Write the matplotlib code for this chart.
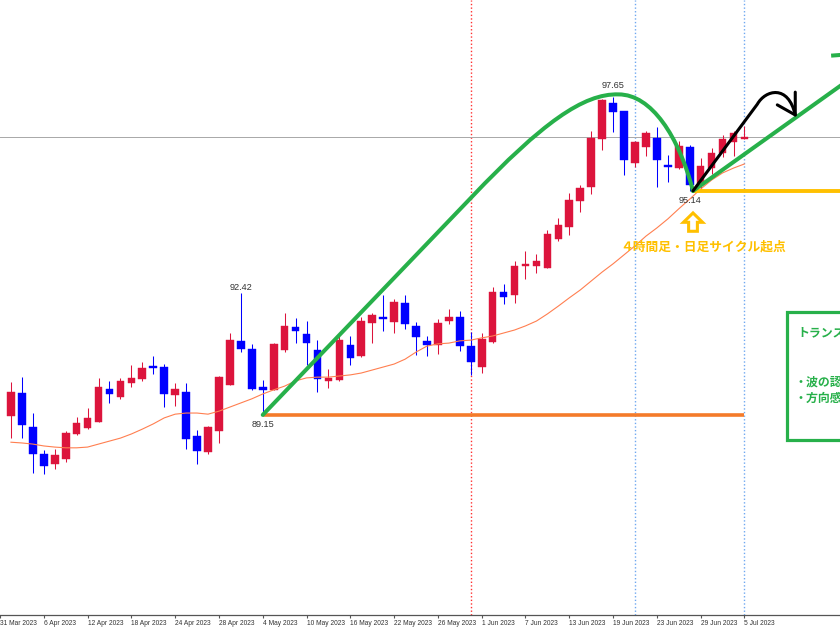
import matplotlib
matplotlib.use("Agg")
import numpy as np
import pandas as pd
import matplotlib.pyplot as plt
from matplotlib.patches import Rectangle, FancyArrow, PathPatch
from matplotlib.path import Path

# daily bars 3 Apr 2023 .. 5 Jul 2023
days = pd.bdate_range("2023-04-03", "2023-07-05")

opens = [89.12, 89.74, 88.83, 88.11, 87.84, 87.97, 88.64, 88.80, 88.96, 89.84,
         89.63, 90.00, 90.11, 90.46, 90.43, 89.68, 89.76, 88.59, 88.16, 88.72,
         89.95, 91.13, 90.91, 89.89, 89.82, 90.89, 91.50, 91.31, 90.89, 90.06,
         90.08, 91.02, 90.72, 91.61, 91.77, 91.63, 92.14, 91.53, 91.13, 91.02,
         91.66, 91.77, 90.99, 90.43, 91.10, 92.43, 92.36, 93.13, 93.13, 93.08,
         93.85, 94.17, 94.87, 95.24, 96.53, 97.49, 97.28, 95.89, 96.31, 96.55,
         95.83, 95.75, 96.31, 95.35, 95.75, 96.15, 96.45, 96.53]
highs = [90.03, 90.16, 89.20, 88.21, 88.24, 88.72, 89.09, 89.33, 90.14, 90.06,
         90.14, 90.49, 90.56, 90.72, 90.51, 90.00, 90.00, 88.75, 88.85, 90.19,
         91.34, 92.42, 91.05, 90.08, 91.07, 91.87, 91.74, 91.66, 91.15, 90.38,
         91.26, 91.26, 91.77, 91.87, 92.36, 92.25, 92.36, 91.63, 91.26, 91.71,
         91.98, 91.93, 91.37, 91.34, 92.57, 92.65, 93.27, 93.53, 93.45, 94.09,
         94.41, 95.08, 95.30, 96.74, 97.60, 97.65, 97.28, 96.47, 96.74, 96.85,
         96.10, 96.47, 96.37, 96.02, 96.29, 96.63, 96.74, 96.87]
lows = [88.53, 88.53, 87.60, 87.57, 87.70, 87.89, 88.61, 88.77, 88.96, 89.47,
        89.58, 89.89, 90.06, 90.24, 89.36, 89.39, 88.24, 87.84, 88.11, 88.40,
        89.95, 90.83, 89.82, 89.15, 89.82, 90.83, 91.07, 90.49, 89.76, 89.87,
        90.06, 90.49, 90.70, 91.07, 91.39, 91.34, 91.45, 90.75, 90.72, 90.78,
        91.58, 90.86, 90.22, 90.27, 91.07, 92.12, 92.14, 92.78, 92.95, 93.08,
        93.80, 93.96, 94.58, 95.06, 96.23, 96.71, 95.56, 95.78, 96.07, 95.24,
        95.38, 95.73, 95.14, 95.16, 95.59, 96.05, 96.07, 96.53]
closes = [89.76, 88.88, 88.11, 87.78, 88.08, 88.67, 88.93, 89.07, 89.89, 89.71,
          90.06, 90.14, 90.40, 90.40, 89.71, 89.84, 88.51, 88.19, 88.83, 90.16,
          91.15, 90.91, 89.84, 89.82, 91.05, 91.53, 91.39, 91.07, 90.11, 90.14,
          91.15, 90.67, 91.66, 91.82, 91.71, 92.17, 91.58, 91.23, 91.02, 91.61,
          91.77, 90.99, 90.56, 91.18, 92.43, 92.30, 93.13, 93.19, 93.27, 93.99,
          94.23, 94.90, 95.22, 96.55, 97.57, 97.25, 95.97, 96.45, 96.69, 95.97,
          95.78, 96.34, 95.30, 95.81, 96.15, 96.53, 96.69, 96.58]
ma = [88.42, 88.40, 88.37, 88.32, 88.29, 88.27, 88.27, 88.29, 88.37, 88.45,
      88.53, 88.64, 88.77, 88.91, 89.07, 89.17, 89.20, 89.20, 89.17, 89.25,
      89.36, 89.47, 89.58, 89.71, 89.82, 89.92, 90.06, 90.14, 90.16, 90.16,
      90.19, 90.22, 90.27, 90.35, 90.43, 90.51, 90.64, 90.83, 90.99, 91.05,
      91.07, 91.13, 91.15, 91.21, 91.26, 91.34, 91.42, 91.53, 91.66, 91.85,
      92.06, 92.28, 92.49, 92.73, 92.97, 93.19, 93.43, 93.67, 93.93, 94.15,
      94.39, 94.66, 94.92, 95.19, 95.43, 95.62, 95.75, 95.86]

# marked swing points (bar index, price)
swing_low = (23, 89.15)
swing_high = (55, 97.65)
spike_high = (21, 92.42)
cycle_low = (62, 95.14)

vlines_red = ["2023-05-31"]
vlines_blue = ["2023-06-21", "2023-07-05"]

RED = "#DC143C"
BLUE = "#0000FF"
GREEN = "#27B04A"
GOLD = "#FFC000"
ORANGE = "#F47B2A"

fig = plt.figure(figsize=(8.4, 6.3), dpi=100)
ax = fig.add_axes([0, 15 / 630, 1, 615 / 630])

x = np.arange(len(days))
o, h, l, c = map(np.array, (opens, highs, lows, closes))
col = np.where(c >= o, RED, BLUE)

ax.vlines(x, l, h, colors=col, lw=0.75, zorder=3)
body = np.maximum(np.abs(c - o), 0.04)
ax.bar(x, body, bottom=np.minimum(o, c), width=0.7, color=col,
       edgecolor=col, lw=0.3, zorder=4)
ax.plot(x, ma, color="#FF7F50", lw=0.8, zorder=5)

# separators and current price line
for d in vlines_red:
    ax.axvline(days.get_loc(pd.Timestamp(d)), color="#FF3030", lw=1.0,
               ls=(0, (1, 1.6)), zorder=1)
for d in vlines_blue:
    ax.axvline(days.get_loc(pd.Timestamp(d)), color="#6FA8F0", lw=1.0,
               ls=(0, (1, 1.6)), zorder=1)
ax.axhline(c[-1], color="#A8A8A8", lw=0.7, zorder=1)

# horizontal levels
ax.plot([swing_low[0], len(days) - 1], [swing_low[1]] * 2, color=ORANGE,
        lw=2.6, solid_capstyle="butt", zorder=6)
ax.plot([cycle_low[0] + 0.3, 80], [cycle_low[1]] * 2, color=GOLD, lw=2.8,
        solid_capstyle="butt", zorder=6)

# green wave
sx, sy = swing_low
ex, ey = cycle_low[0] + 0.3, cycle_low[1]
wave = Path([(sx, sy), (42.1, 94.98),
             (48.5, 96.95), (52.3, 97.75), (55.5, 97.72),
             (58.5, 97.72), (61.0, 96.6), (ex, ey)],
            [Path.MOVETO, Path.LINETO, Path.CURVE4, Path.CURVE4, Path.CURVE4,
             Path.CURVE4, Path.CURVE4, Path.CURVE4])
ax.add_patch(PathPatch(wave, fill=False, ec=GREEN, lw=2.9, zorder=7,
                       capstyle="round", joinstyle="round"))
ax.plot([ex, 76.0], [ey, 98.0], color=GREEN, lw=2.9, zorder=7,
        solid_capstyle="round")
ax.plot([75.1, 76.0], [98.76, 98.78], color=GREEN, lw=2.9, zorder=7)

# black projected path
proj = Path([(ex, ey), (68.18, 97.46),
             (68.91, 97.84), (71.0, 98.0), (71.64, 97.17)],
            [Path.MOVETO, Path.LINETO, Path.CURVE4, Path.CURVE4, Path.CURVE4])
ax.add_patch(PathPatch(proj, fill=False, ec="black", lw=2.2, zorder=8,
                       capstyle="round", joinstyle="round"))
ax.plot([70.0, 71.64, 71.64], [97.44, 97.17, 97.78], color="black", lw=2.2,
        zorder=8, solid_capstyle="round", solid_joinstyle="round")

# price labels
lab = dict(fontsize=6.6, color="#333333", family="Liberation Sans", ha="center",
           textcoords="offset points", zorder=9)
ax.annotate(f"{swing_high[1]:.2f}", swing_high, xytext=(0, 5), va="bottom", **lab)
ax.annotate(f"{spike_high[1]:.2f}", spike_high, xytext=(0, 0.5), va="bottom", **lab)
ax.annotate(f"{swing_low[1]:.2f}", swing_low, xytext=(0, -3.5), va="top", **lab)
ax.annotate(f"{cycle_low[1]:.2f}", cycle_low, xytext=(0, -3.5), va="top", **lab)

# hollow up arrow and note
ax.add_patch(FancyArrow(ex, 94.06, 0, 0.49, width=0.8, head_width=1.75,
                        head_length=0.25, length_includes_head=True,
                        fill=False, ec=GOLD, lw=2.2, zorder=8))
jp = ["Noto Sans CJK JP", "DejaVu Sans"]
ax.text(63.27, 93.64, "４時間足・日足サイクル起点", color=GOLD, fontsize=9.2,
        fontweight="bold", family=jp, ha="center", va="center", zorder=9)

# note box (runs off the right edge)
ax.add_patch(Rectangle((70.9, 88.48), 10, 3.42, fc="white", ec=GREEN, lw=2.3,
                       zorder=9))
ax.text(71.85, 91.34, "トランスフォーム", color=GREEN, fontsize=8.6,
        fontweight="bold", family=jp, va="center", zorder=10)
ax.text(71.55, 90.03, "・波の認識", color=GREEN, fontsize=8.6,
        fontweight="bold", family=jp, va="center", zorder=10)
ax.text(71.55, 89.58, "・方向感", color=GREEN, fontsize=8.6,
        fontweight="bold", family=jp, va="center", zorder=10)

ax.set_xlim(-0.636, 75.727)
ax.set_ylim(83.80, 100.244)

tick_pos = np.arange(-1, len(days), 4)
tick_lab = []
for p in tick_pos:
    d = days[0] + pd.offsets.BDay(int(p)) if p < 0 else days[p]
    tick_lab.append(f"{d.day} {d:%b %Y}")
ax.set_xticks(tick_pos)
ax.set_xticklabels(tick_lab, ha="left", fontsize=4.8, family="Liberation Sans",
                   color="#333333")
ax.tick_params(axis="x", length=2.5, width=0.8, color="#555555", pad=1)
ax.set_yticks([])
for s in ("top", "left", "right"):
    ax.spines[s].set_visible(False)
ax.spines["bottom"].set_color("#555555")
ax.spines["bottom"].set_linewidth(0.9)

fig.savefig("out.png", dpi=100)
